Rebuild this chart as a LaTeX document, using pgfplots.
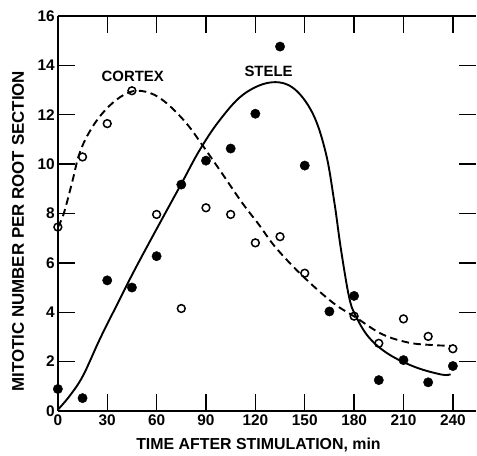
\documentclass[border=0pt]{standalone}
\usepackage{fontspec}
\setmainfont{Liberation Sans}
\usepackage{pgfplots}
\pgfplotsset{compat=1.18}

\pgfplotsset{
    figaxis/.style={
        scale only axis,
        width=419bp, height=396bp,
        xmin=0, xmax=253.94, ymin=0, ymax=16,
        xtick={0,30,...,240}, ytick={0,2,...,16},
        axis line style={line width=1.5bp},
        major tick length=17bp,
        every tick/.style={black, line width=1.4bp},
        tick align=inside,
        /pgf/number format/assume math mode=true,
        ticklabel style={font=\fontsize{15.5}{15.5}\selectfont\bfseries, inner sep=0pt},
    },
}

\begin{document}
\begin{tikzpicture}
\path (-58bp,-45bp) rectangle (419bp,412bp);
% right-hand ticks only (the right spine is cut off in the original)
\begin{axis}[figaxis,
    axis x line=none, axis y line*=right,
    y axis line style={draw=none},
    yticklabels={},
]
\end{axis}
\begin{axis}[figaxis,
    axis x line*=box, axis y line*=left,
    clip=false,
    xticklabel style={yshift=-4bp},
    yticklabel style={xshift=-3bp},
    xlabel={TIME AFTER STIMULATION, min},
    ylabel={MITOTIC NUMBER PER ROOT SECTION},
    label style={inner sep=1pt},
    xlabel style={font=\fontsize{16}{16}\selectfont\bfseries,
        at={(axis description cs:0.48,0)}, anchor=center, yshift=-34bp},
    ylabel style={font=\fontsize{17}{17}\selectfont\bfseries,
        at={(axis description cs:0,0.455)}, anchor=center, yshift=40bp},
]
% stele fitted curve
\addplot[black, line width=1.9bp, smooth, tension=0.6] coordinates {
    (0,0.05) (7.3,0.62) (15.3,1.43) (25.5,2.91) (35.6,4.26) (45.6,5.58)
    (57.8,7.1) (75,9.2) (86,10.55) (98,11.75) (112.3,12.8) (128.5,13.3)
    (142.6,13.1) (154.7,12.07) (162.8,10.45) (168,8.45) (172,6.55)
    (177,4.6) (181,3.85) (189,2.98) (201,2.3) (217.4,1.77) (233.5,1.47)
    (238.6,1.49)
};
% cortex fitted curve
\addplot[black, line width=1.9bp, dash pattern=on 7.5bp off 4.5bp, smooth, tension=0.6] coordinates {
    (0,7.45) (3.6,8.0) (9,9.35) (12.5,10.3) (17.5,11.1) (25.5,11.93)
    (35.5,12.6) (45.5,12.95) (56,12.88) (66,12.47) (78,11.66) (88,10.75)
    (100,9.6) (112,8.43) (122,7.56) (132.5,6.61) (148.7,5.47) (167,4.39)
    (181,3.79) (197,3.11) (213,2.77) (227.5,2.67) (239,2.64)
};
% stele observations
\addplot[only marks, mark=*, mark size=4.7bp, black] coordinates {
    (0,0.89) (15,0.52) (30,5.29) (45,5.0) (60,6.27) (75,9.17) (90,10.14)
    (105,10.63) (120,12.04) (135,14.76) (150,9.94) (165,4.03) (180,4.66)
    (195,1.25) (210,2.06) (225,1.16) (240,1.82)
};
% cortex observations
\addplot[only marks, mark=o, mark size=3.9bp, line width=1.5bp, black,
    mark options={fill=white, solid}] coordinates {
    (0,7.45) (15,10.29) (30,11.64) (45,12.97) (60,7.96) (75,4.15) (90,8.23)
    (105,7.96) (120,6.81) (135,7.06) (150,5.58) (180,3.84) (195,2.74)
    (210,3.73) (225,3.02) (240,2.52)
};
\node[font=\fontsize{15}{15}\selectfont\bfseries] at (axis cs:45.5,13.57) {CORTEX};
\node[font=\fontsize{15}{15}\selectfont\bfseries] at (axis cs:128,13.75) {STELE};
\end{axis}
\end{tikzpicture}
\end{document}
